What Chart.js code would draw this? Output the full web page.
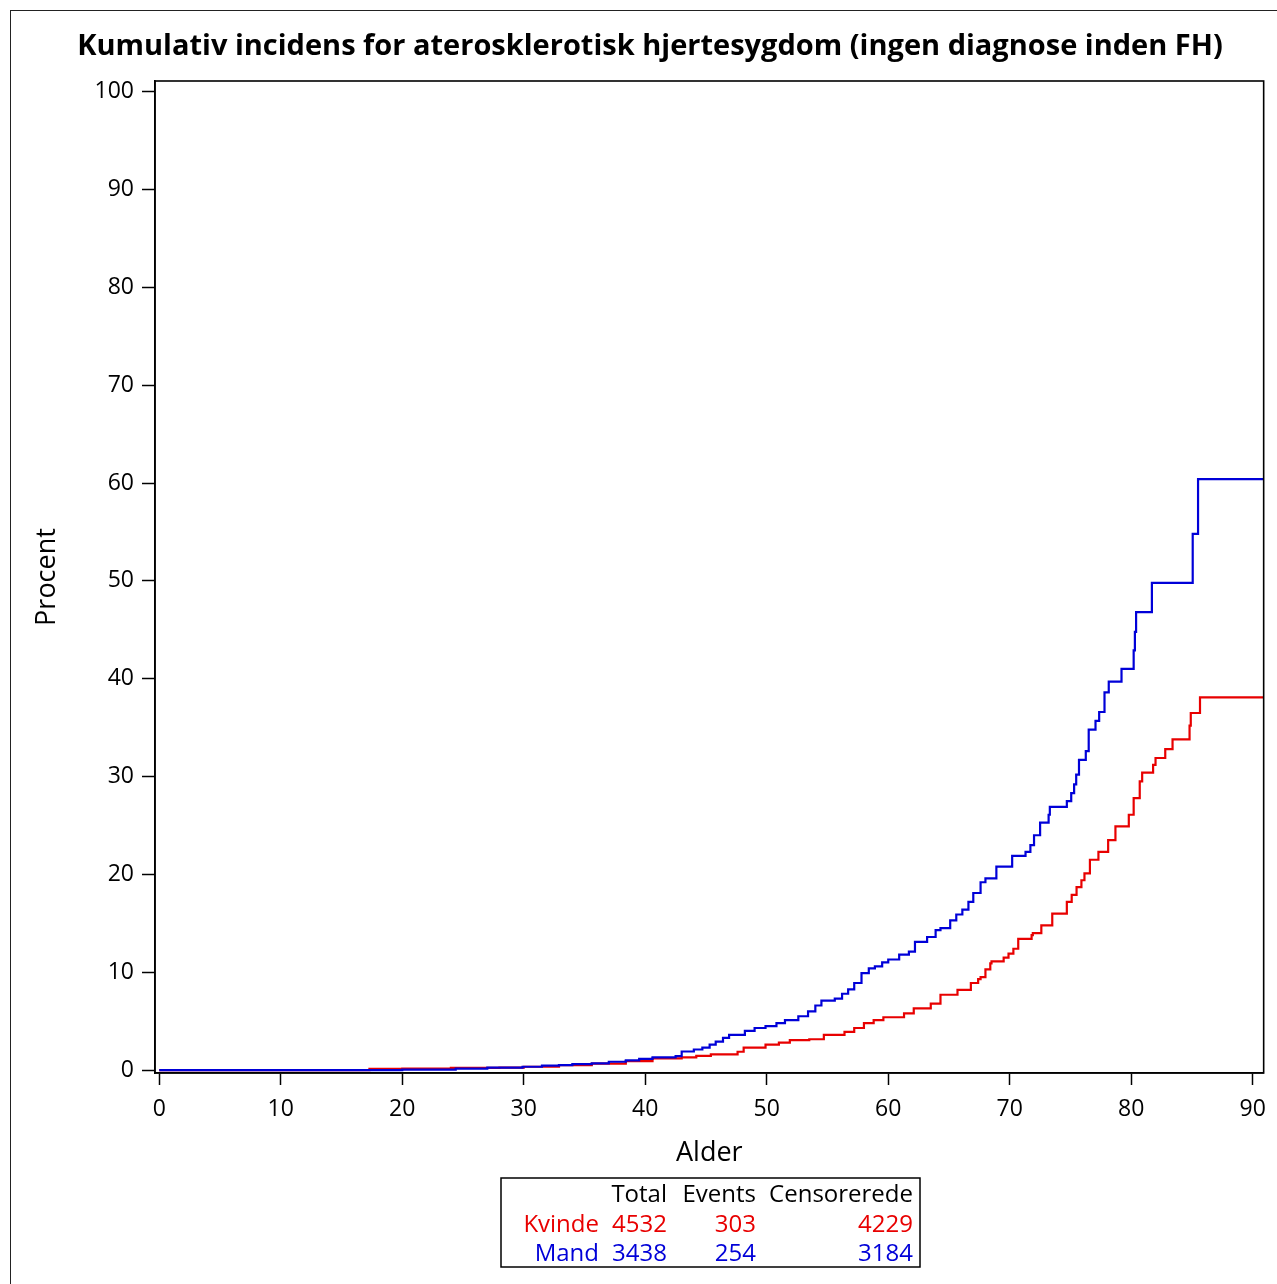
<!DOCTYPE html>
<html>
<head>
<meta charset="utf-8">
<script src="https://cdn.jsdelivr.net/npm/chart.js@4/dist/chart.umd.min.js"></script>
<style>
    html, body { margin: 0; padding: 0; background: #fff; }
    canvas { display: block; }
</style>
</head>
<body>
<canvas id="kmChart" width="1277" height="1284"></canvas>
<script>
(function () {
    'use strict';

    // Kaplan-Meier style cumulative incidence
    var mandAge = [0, 20, 24.4, 27, 29.9, 31.5, 32.9, 34, 35.6, 37, 38.4, 39.5, 40.6, 42.5, 43, 44, 44.7, 45.3,
        45.8, 46.4, 46.9, 48.2, 49, 49.9, 50.8, 51.5, 52.6, 53.4, 54, 54.5, 55.6, 56.2, 56.7, 57.2, 57.8,
        58.4, 58.9, 59.5, 60, 60.9, 61.7, 62.2, 63.2, 63.9, 64.3, 65.1, 65.6, 66.1, 66.6, 67, 67.6, 68,
        68.9, 70.2, 71.3, 71.7, 72, 72.5, 73.2, 73.3, 74.7, 75.06, 75.3, 75.47, 75.7, 76.26, 76.5, 77.06,
        77.36, 77.8, 78.15, 79.2, 80.2, 80.3, 80.4, 81.7, 85.06, 85.5, 91.5];
    var mandPct = [0, 0.05, 0.15, 0.25, 0.34, 0.45, 0.5, 0.6, 0.68, 0.85, 1.0, 1.15, 1.3, 1.43, 1.9, 2.1, 2.3, 2.6,
        2.9, 3.3, 3.6, 4.0, 4.3, 4.5, 4.8, 5.1, 5.5, 6.0, 6.6, 7.1, 7.3, 7.8, 8.25, 8.9, 9.9,
        10.4, 10.6, 11.0, 11.3, 11.8, 12.1, 13.1, 13.6, 14.3, 14.5, 15.3, 15.9, 16.4, 17.2, 18.1, 19.2, 19.6,
        20.8, 21.9, 22.3, 23.0, 24.0, 25.3, 26.1, 26.9, 27.5, 28.3, 29.2, 30.2, 31.7, 32.6, 34.8, 35.7,
        36.6, 38.6, 39.7, 41.0, 42.9, 44.8, 46.8, 49.8, 54.8, 60.4, 60.4];

    var kvindeAge = [0, 17.3, 20, 24, 28, 30, 32.9, 35.6, 38.4, 40.6, 43, 44.2, 45.4, 47.6, 48.1, 49.9, 51, 51.9,
        53.5, 54.7, 56.4, 57.2, 58, 58.8, 59.6, 61.3, 62.1, 63.5, 64.3, 65.7, 66.8, 67.4, 67.6, 68, 68.4,
        68.5, 69.5, 69.9, 70.3, 70.7, 71.8, 71.9, 72.6, 73.5, 74.7, 75.1, 75.5, 75.9, 76.15, 76.6, 77.3,
        78.1, 78.7, 79.8, 80.2, 80.7, 80.9, 81.8, 82, 82.8, 83.4, 84.8, 84.9, 85.66, 91.5];
    var kvindePct = [0, 0.13, 0.15, 0.22, 0.25, 0.34, 0.5, 0.65, 0.92, 1.2, 1.3, 1.45, 1.6, 1.87, 2.3, 2.6, 2.8, 3.07,
        3.15, 3.6, 3.9, 4.3, 4.8, 5.1, 5.4, 5.8, 6.3, 6.8, 7.7, 8.2, 8.9, 9.3, 9.5, 10.3, 10.9,
        11.1, 11.5, 11.9, 12.4, 13.4, 13.8, 14.0, 14.8, 16.0, 17.2, 17.9, 18.7, 19.4, 20.1, 21.5, 22.3,
        23.5, 24.9, 26.1, 27.8, 29.5, 30.4, 31.2, 31.9, 32.8, 33.8, 35.2, 36.5, 38.1, 38.1];

    var xTicks = [0, 10, 20, 30, 40, 50, 60, 70, 80, 90];
    var yTicks = [0, 10, 20, 30, 40, 50, 60, 70, 80, 90, 100];

    // summary table under the plot
    var tableHeaders = ['Total', 'Events', 'Censorerede'];
    var groupNames = ['Kvinde', 'Mand'];
    var groupTotal = [4532, 3438];
    var groupEvents = [303, 254];
    var groupCensored = [4229, 3184];

    var chartTitle = 'Kumulativ incidens for aterosklerotisk hjertesygdom (ingen diagnose inden FH)';
    var RED = '#e80000';
    var BLUE = '#0000d8';
    var groupColors = [RED, BLUE];
    var FONT = "'Open Sans', 'DejaVu Sans', sans-serif";

    function toPoints(xs, ys) {
        return xs.map(function (x, i) { return { x: x, y: ys[i] }; });
    }

    function keepTicks(list) {
        return function (scale) {
            scale.ticks = list.map(function (v) { return { value: v }; });
        };
    }

    var decorations = {
        id: 'decorations',
        afterDatasetsDraw: function (chart) {
            var ctx = chart.ctx;
            var area = chart.chartArea;
            ctx.save();
            ctx.strokeStyle = '#000';
            ctx.lineWidth = 1.6;
            ctx.strokeRect(area.left, area.top, area.right - area.left, area.bottom - area.top);
            ctx.restore();
        },
        afterDraw: function (chart) {
            var ctx = chart.ctx;
            ctx.save();

            // outer frame of the graph
            ctx.strokeStyle = '#222';
            ctx.lineWidth = 1;
            ctx.strokeRect(10.5, 10.5, 1300, 1300);

            // title
            ctx.fillStyle = '#000';
            ctx.font = 'bold 29px ' + FONT;
            ctx.textAlign = 'center';
            ctx.textBaseline = 'middle';
            ctx.fillText(chartTitle, 650, 47);

            // table box
            ctx.lineWidth = 1.5;
            ctx.strokeStyle = '#000';
            ctx.strokeRect(501, 1178, 419, 89);

            ctx.font = '24px ' + FONT;
            ctx.textAlign = 'right';
            ctx.textBaseline = 'alphabetic';
            var colRight = [667, 756, 913];
            tableHeaders.forEach(function (h, i) {
                ctx.fillText(h, colRight[i], 1202);
            });
            groupNames.forEach(function (name, r) {
                var yy = 1232 + r * 29;
                ctx.fillStyle = groupColors[r];
                ctx.fillText(name, 599, yy);
                ctx.fillText(String(groupTotal[r]), colRight[0], yy);
                ctx.fillText(String(groupEvents[r]), colRight[1], yy);
                ctx.fillText(String(groupCensored[r]), colRight[2], yy);
            });
            ctx.restore();
        }
    };

    new Chart(document.getElementById('kmChart'), {
        type: 'line',
        data: {
            datasets: [{
                label: 'Mand',
                data: toPoints(mandAge, mandPct),
                borderColor: BLUE,
                borderWidth: 2.2,
                pointRadius: 0,
                stepped: true,
                fill: false
            }, {
                label: 'Kvinde',
                data: toPoints(kvindeAge, kvindePct),
                borderColor: RED,
                borderWidth: 2.2,
                pointRadius: 0,
                stepped: true,
                fill: false
            }]
        },
        options: {
            responsive: false,
            animation: false,
            devicePixelRatio: 1,
            layout: {
                padding: { top: 81, right: 12, left: 0, bottom: 0 }
            },
            plugins: {
                legend: { display: false },
                tooltip: { enabled: false }
            },
            scales: {
                x: {
                    type: 'linear',
                    min: -0.35,
                    max: 90.9,
                    afterBuildTicks: keepTicks(xTicks),
                    afterFit: function (scale) { scale.height = 211; },
                    grid: {
                        drawOnChartArea: false,
                        tickLength: 12,
                        tickColor: '#000',
                        tickWidth: 1.5
                    },
                    border: { color: '#000', width: 1.6 },
                    ticks: {
                        color: '#000',
                        padding: 11,
                        maxRotation: 0,
                        font: { family: FONT, size: 23 }
                    },
                    title: {
                        display: true,
                        text: 'Alder',
                        color: '#000',
                        font: { family: FONT, size: 27 },
                        padding: { top: 0, bottom: 114 }
                    }
                },
                y: {
                    min: -0.3,
                    max: 101.1,
                    afterBuildTicks: keepTicks(yTicks),
                    afterFit: function (scale) { scale.width = 155; },
                    grid: {
                        drawOnChartArea: false,
                        tickLength: 13,
                        tickColor: '#000',
                        tickWidth: 1.5
                    },
                    border: { color: '#000', width: 1.6 },
                    ticks: {
                        color: '#000',
                        padding: 8,
                        font: { family: FONT, size: 23 }
                    },
                    title: {
                        display: true,
                        text: 'Procent',
                        color: '#000',
                        font: { family: FONT, size: 27 },
                        padding: { top: 31, bottom: 0 }
                    }
                }
            }
        },
        plugins: [decorations]
    });
})();
</script>
</body>
</html>
